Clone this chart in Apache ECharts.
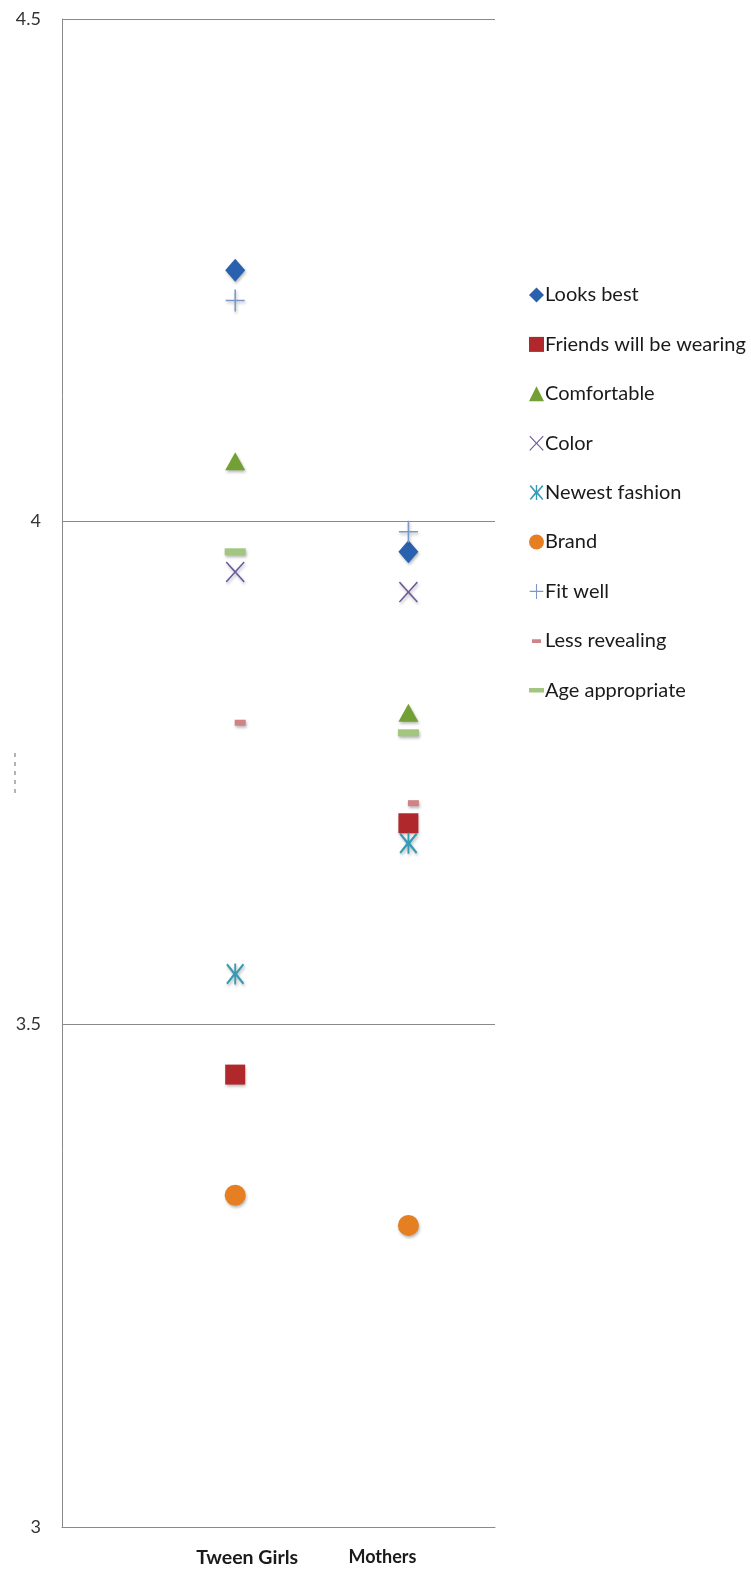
<!DOCTYPE html>
<html>
<head>
<meta charset="utf-8">
<script src="https://cdn.jsdelivr.net/npm/echarts@6/dist/echarts.min.js"></script>
<style>
  html, body { margin: 0; padding: 0; background: #ffffff; }
  #chart { width: 751px; height: 1570px; }
</style>
</head>
<body>
<div id="chart"></div>
<script>
// Groups along the horizontal axis
const categories = ['Tween Girls', 'Mothers'];

// Mean ratings per attribute: [Tween Girls, Mothers]
const looksBest      = [4.25, 3.97];
const friendsWearing = [3.45, 3.70];
const comfortable    = [4.06, 3.81];
const colorRating    = [3.95, 3.93];
const newestFashion  = [3.55, 3.68];
const brand          = [3.33, 3.30];
const fitWell        = [4.22, 3.99];
const lessRevealing  = [3.80, 3.72];
const ageAppropriate = [3.97, 3.79];

const seriesNames = ['Looks best', 'Friends will be wearing', 'Comfortable', 'Color',
  'Newest fashion', 'Brand', 'Fit well', 'Less revealing', 'Age appropriate'];
const seriesValues = [looksBest, friendsWearing, comfortable, colorRating,
  newestFashion, brand, fitWell, lessRevealing, ageAppropriate];

// Y axis range
const yMin = 3, yMax = 4.5, yStep = 0.5;

// Marker shapes
const PLUS = 'path://M9.2,0 L10.8,0 L10.8,10.2 L20,10.2 L20,11.8 L10.8,11.8 L10.8,22 L9.2,22 L9.2,11.8 L0,11.8 L0,10.2 L9.2,10.2 Z';
const CROSS = 'path://M0,1.1 L1.1,0 L10,9.4 L18.9,0 L20,1.1 L11.1,10.5 L20,19.9 L18.9,21 L10,11.6 L1.1,21 L0,19.9 L8.9,10.5 Z';
const STAR = 'path://M0,1.6 L1.6,0 L9,8.6 L9,0 L11,0 L11,8.6 L18.4,0 L20,1.6 L12.2,11 L20,20.4 L18.4,22 L11,13.4 L11,22 L9,22 L9,13.4 L1.6,22 L0,20.4 L7.8,11 Z';
const SMALL_DASH = 'path://M0,0 L0.01,0 L0,0.01 Z M4,8 L16,8 L16,13 L4,13 Z M20,20 L19.99,20 L20,19.99 Z';
const WIDE_DASH = 'path://M0,0 L0.01,0 L0,0.01 Z M0,7 L20,7 L20,13 L0,13 Z M20,20 L19.99,20 L20,19.99 Z';

const styles = [
  { symbol: 'diamond',   size: [20, 23], color: '#2A61AE' },
  { symbol: 'rect',      size: [20, 20], color: '#B0282B' },
  { symbol: 'triangle',  size: [20, 18], color: '#72A035' },
  { symbol: CROSS,       size: [19, 21], color: '#6A5899' },
  { symbol: STAR,        size: [18, 21], color: '#359BB4' },
  { symbol: 'circle',    size: [21, 21], color: '#E67E22' },
  { symbol: PLUS,        size: [19, 22], color: '#7898CA' },
  { symbol: 'rect',      size: [11, 6],  color: '#D08386', offset: [5, 0] },
  { symbol: 'rect',      size: [21, 7],  color: '#A2C680' }
];
const legendIcons = ['diamond', 'rect', 'triangle', CROSS, STAR, 'circle', PLUS, SMALL_DASH, WIDE_DASH];

const FONT = 'Lato, "Open Sans", sans-serif';

const series = seriesNames.map((name, i) => ({
  name: name,
  type: 'scatter',
  symbol: styles[i].symbol,
  symbolSize: styles[i].size,
  symbolOffset: styles[i].offset || [0, 0],
  itemStyle: {
    color: styles[i].color,
    opacity: 1,
    shadowBlur: 3,
    shadowOffsetX: 1,
    shadowOffsetY: 2,
    shadowColor: 'rgba(0,0,0,0.28)'
  },
  data: seriesValues[i].map((v, j) => [j + 1, v])
}));

const chart = echarts.init(document.getElementById('chart'), null, { renderer: 'canvas' });
chart.setOption({
  animation: false,
  backgroundColor: '#ffffff',
  grid: { left: 62, right: 256, top: 19, bottom: 43, containLabel: false },
  xAxis: {
    type: 'value',
    min: 0,
    max: 2.5,
    interval: 1,
    axisLine: { show: true, lineStyle: { color: '#8a8a8a', width: 1 } },
    axisTick: { show: false },
    splitLine: { show: false },
    axisLabel: {
      margin: 21,
      showMaxLabel: false,
      formatter: v => {
        const idx = Math.round(v) - 1;
        if (idx === 0) return '{a|' + categories[0] + '}';
        if (idx === 1) return '{b|' + categories[1] + '}';
        return '';
      },
      rich: {
        a: { fontFamily: FONT, fontSize: 19.5, fontWeight: 'bold', color: '#1a1a1a', padding: [0, 0, 0, 24] },
        b: { fontFamily: FONT, fontSize: 18, fontWeight: 'bold', color: '#1a1a1a', padding: [0, 52, 0, 0] }
      }
    }
  },
  yAxis: {
    type: 'value',
    min: yMin,
    max: yMax,
    interval: yStep,
    axisLine: { show: true, lineStyle: { color: '#8a8a8a', width: 1 } },
    axisTick: { show: false },
    splitLine: { show: true, lineStyle: { color: '#8a8a8a', width: 1 } },
    axisLabel: { margin: 21, fontFamily: FONT, fontSize: 18, color: '#333333' }
  },
  legend: {
    orient: 'vertical',
    left: 524,
    top: 280,
    itemWidth: 15,
    itemHeight: 15,
    itemGap: 29.4,
    textStyle: { fontFamily: FONT, fontSize: 20, color: '#1a1a1a', padding: [0, 0, 0, -4] },
    data: seriesNames.map((n, i) => ({ name: n, icon: legendIcons[i] }))
  },
  graphic: [{
    type: 'line',
    shape: { x1: 15, y1: 753, x2: 15, y2: 797 },
    style: { stroke: '#9a9a9a', lineWidth: 1.5, lineDash: [4, 5] }
  }],
  series: series
});
</script>
</body>
</html>
